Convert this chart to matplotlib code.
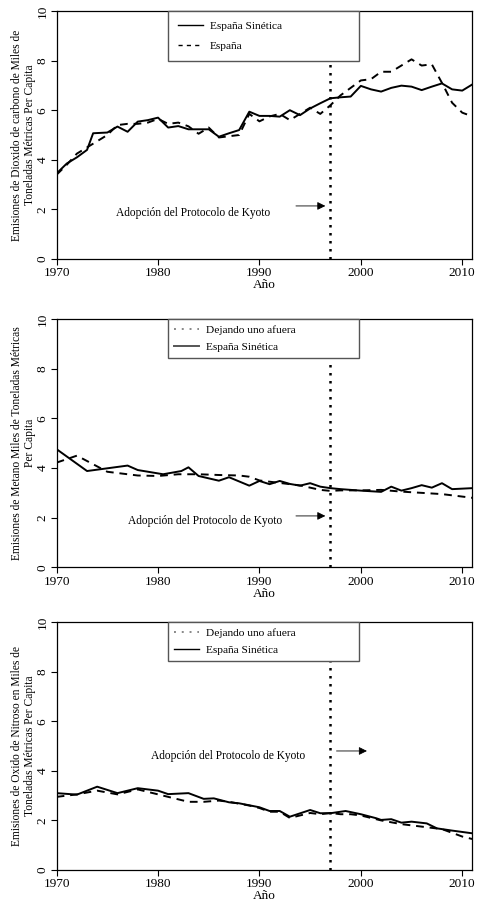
import matplotlib
matplotlib.use("Agg")
import matplotlib.pyplot as plt

plt.rcParams['font.family'] = ['Liberation Serif', 'DejaVu Serif']

# --- CO2 panel ---
co2_years = [1970, 1971, 1972, 1973, 1973.6, 1975, 1976, 1977, 1978, 1979, 1980,
             1981, 1982, 1983, 1984, 1985, 1986, 1987, 1988, 1989, 1990, 1991,
             1992, 1993, 1994, 1995, 1996, 1997, 1998, 1999, 2000, 2001, 2002,
             2003, 2004, 2005, 2006, 2007, 2008, 2009, 2010, 2011]
co2_sint = [3.45, 3.85, 4.1, 4.4, 5.07, 5.1, 5.34, 5.13, 5.54, 5.6, 5.7,
            5.3, 5.36, 5.23, 5.23, 5.23, 4.93, 5.07, 5.2, 5.94, 5.77, 5.77,
            5.74, 6.0, 5.8, 6.07, 6.28, 6.48, 6.52, 6.55, 6.98, 6.84, 6.75,
            6.9, 6.99, 6.95, 6.81, 6.95, 7.08, 6.84, 6.79, 7.04]
co2_esp = [3.4, 3.8, 4.25, 4.5, 4.65, 5.0, 5.4, 5.45, 5.45, 5.5, 5.65,
           5.45, 5.5, 5.35, 5.05, 5.3, 4.9, 4.95, 5.0, 5.85, 5.55, 5.75,
           5.85, 5.6, 5.85, 6.1, 5.85, 6.2, 6.6, 6.9, 7.2, 7.25, 7.55,
           7.55, 7.8, 8.05, 7.8, 7.85, 7.1, 6.3, 5.9, 5.75]

# --- Methane panel ---
ch4_sint_years = [1970, 1973, 1977, 1978, 1980.5, 1982.3, 1983, 1984, 1986, 1987,
                  1989, 1990, 1991, 1992, 1993, 1994, 1995, 1996, 1997, 1998,
                  2000, 2002, 2003, 2004, 2005, 2006, 2007, 2008, 2009, 2011]
ch4_sint = [4.76, 3.88, 4.1, 3.92, 3.75, 3.88, 4.03, 3.68, 3.49, 3.63,
            3.29, 3.48, 3.35, 3.48, 3.36, 3.29, 3.39, 3.25, 3.19, 3.15,
            3.09, 3.04, 3.25, 3.09, 3.19, 3.31, 3.21, 3.39, 3.15, 3.19]
ch4_esp_years = [1970, 1972, 1975, 1976, 1978, 1980, 1982, 1984, 1986, 1988,
                 1989, 1990, 1992, 1994, 1996, 1997, 1998, 2000, 2002, 2004,
                 2006, 2008, 2010, 2011]
ch4_esp = [4.22, 4.5, 3.85, 3.8, 3.7, 3.68, 3.75, 3.75, 3.72, 3.7,
           3.65, 3.5, 3.4, 3.3, 3.12, 3.08, 3.1, 3.1, 3.12, 3.05,
           3.0, 2.95, 2.85, 2.8]

# --- Nitrous oxide panel ---
n2o_sint_years = [1970, 1972, 1974, 1976, 1978, 1980, 1981, 1983, 1984.5, 1985.5,
                  1987, 1988, 1990, 1991, 1992, 1993, 1995, 1996, 1997, 1998.5,
                  2000, 2001.5, 2002, 2003, 2004, 2005, 2006.5, 2007.5, 2009, 2011]
n2o_sint = [3.1, 3.04, 3.36, 3.1, 3.3, 3.2, 3.06, 3.1, 2.87, 2.89,
            2.73, 2.69, 2.53, 2.38, 2.38, 2.15, 2.42, 2.29, 2.29, 2.38,
            2.25, 2.09, 2.02, 2.05, 1.91, 1.95, 1.88, 1.68, 1.59, 1.48]
n2o_esp_years = [1970, 1972, 1974, 1976, 1978, 1980, 1982, 1983, 1984.5, 1986,
                 1987, 1989, 1990, 1991, 1992, 1993, 1995, 1996, 1997, 1998,
                 1999, 2000, 2002, 2004, 2006, 2007, 2008, 2010, 2011]
n2o_esp = [2.95, 3.05, 3.2, 3.05, 3.25, 3.05, 2.85, 2.75, 2.75, 2.8,
           2.75, 2.6, 2.5, 2.35, 2.35, 2.1, 2.3, 2.25, 2.3, 2.25,
           2.25, 2.2, 2.0, 1.85, 1.75, 1.7, 1.65, 1.35, 1.25]

ylabels = ["Emisiones de Dioxido de carbono de Miles de\nToneladas Métricas Per Capita",
           "Emisiones de Metano Miles de Toneladas Métricas\nPer Capita",
           "Emisiones de Oxido de Nitroso en Miles de\nToneladas Métricas Per Capita"]
kyoto_text = "Adopción del Protocolo de Kyoto"

fig = plt.figure(figsize=(4.84, 9.0), dpi=100)
left, width, height = 0.117, 0.859, 0.2756
bottoms = [0.7122, 0.3697, 0.0333]
axes = [fig.add_axes([left, b, width, height]) for b in bottoms]


def style_axis(ax, ylabel):
    ax.set_xlim(1970, 2011)
    ax.set_ylim(0, 10)
    ax.set_xticks([1970, 1980, 1990, 2000, 2010])
    ax.set_yticks([0, 2, 4, 6, 8, 10])
    ax.tick_params(direction='out', length=4, width=0.8, labelsize=9.5, pad=2)
    for lab in ax.get_yticklabels():
        lab.set_rotation(90)
        lab.set_va('center')
    for s in ax.spines.values():
        s.set_linewidth(0.9)
    ax.set_xlabel("Año", fontsize=9.5, labelpad=0)
    ax.set_ylabel(ylabel, fontsize=8.3, labelpad=0.5, linespacing=1.05)


def add_legend(ax, handles, labels, spacing, pad):
    ax.legend(handles, labels, loc='upper left',
              bbox_to_anchor=(0.268, 0, 0.459, 1.0), mode='expand', fontsize=8.2,
              fancybox=False, edgecolor='#555555', framealpha=1, borderaxespad=0,
              handlelength=2.2, handletextpad=0.6, labelspacing=spacing, borderpad=pad)


# panel 1
ax = axes[0]
l1, = ax.plot(co2_years, co2_sint, color='black', lw=1.4)
l2, = ax.plot(co2_years, co2_esp, color='black', lw=1.4, ls=(0, (4, 3)))
ax.vlines(1997, 0, 8.1, colors='black', linestyles=(0, (1, 2.2)), lw=1.8)
ax.annotate("", xy=(1996.5, 2.14), xytext=(1993.6, 2.14),
            arrowprops=dict(arrowstyle='-|>', color='black', lw=0.6,
                            mutation_scale=12, shrinkA=0, shrinkB=0))
ax.text(1983.5, 1.85, kyoto_text, ha='center', va='center', fontsize=8.3)
h1, = ax.plot([], [], color='black', lw=1.0)
h2, = ax.plot([], [], color='black', lw=1.0, ls=(0, (3, 3)))
add_legend(ax, [h1, h2], ["España Sinética", "España"], 0.95, 0.85)
style_axis(ax, ylabels[0])

# panel 2
ax = axes[1]
ax.plot(ch4_sint_years, ch4_sint, color='black', lw=1.4)
ax.plot(ch4_esp_years, ch4_esp, color='black', lw=1.4, ls=(0, (4, 3)))
ax.vlines(1997, 0, 8.3, colors='black', linestyles=(0, (1, 2.2)), lw=1.8)
ax.annotate("", xy=(1996.5, 2.07), xytext=(1993.6, 2.07),
            arrowprops=dict(arrowstyle='-|>', color='black', lw=0.6,
                            mutation_scale=12, shrinkA=0, shrinkB=0))
ax.text(1984.65, 1.88, kyoto_text, ha='center', va='center', fontsize=8.3)
h1, = ax.plot([], [], color='#888888', lw=1.4, ls=(0, (1, 3)))
h2, = ax.plot([], [], color='#555555', lw=1.4)
add_legend(ax, [h1, h2], ["Dejando uno afuera", "España Sinética"], 0.65, 0.5)
style_axis(ax, ylabels[1])

# panel 3
ax = axes[2]
ax.plot(n2o_sint_years, n2o_sint, color='black', lw=1.4)
ax.plot(n2o_esp_years, n2o_esp, color='black', lw=1.4, ls=(0, (4, 3)))
ax.vlines(1997, 0, 8.6, colors='black', linestyles=(0, (1, 2.2)), lw=1.8)
ax.annotate("", xy=(2000.6, 4.8), xytext=(1997.6, 4.8),
            arrowprops=dict(arrowstyle='-|>', color='black', lw=0.6,
                            mutation_scale=12, shrinkA=0, shrinkB=0))
ax.text(1986.9, 4.6, kyoto_text, ha='center', va='center', fontsize=8.3)
h1, = ax.plot([], [], color='#888888', lw=1.4, ls=(0, (1, 3)))
h2, = ax.plot([], [], color='black', lw=1.0)
add_legend(ax, [h1, h2], ["Dejando uno afuera", "España Sinética"], 0.65, 0.5)
style_axis(ax, ylabels[2])

fig.savefig("out.png", dpi=100)
